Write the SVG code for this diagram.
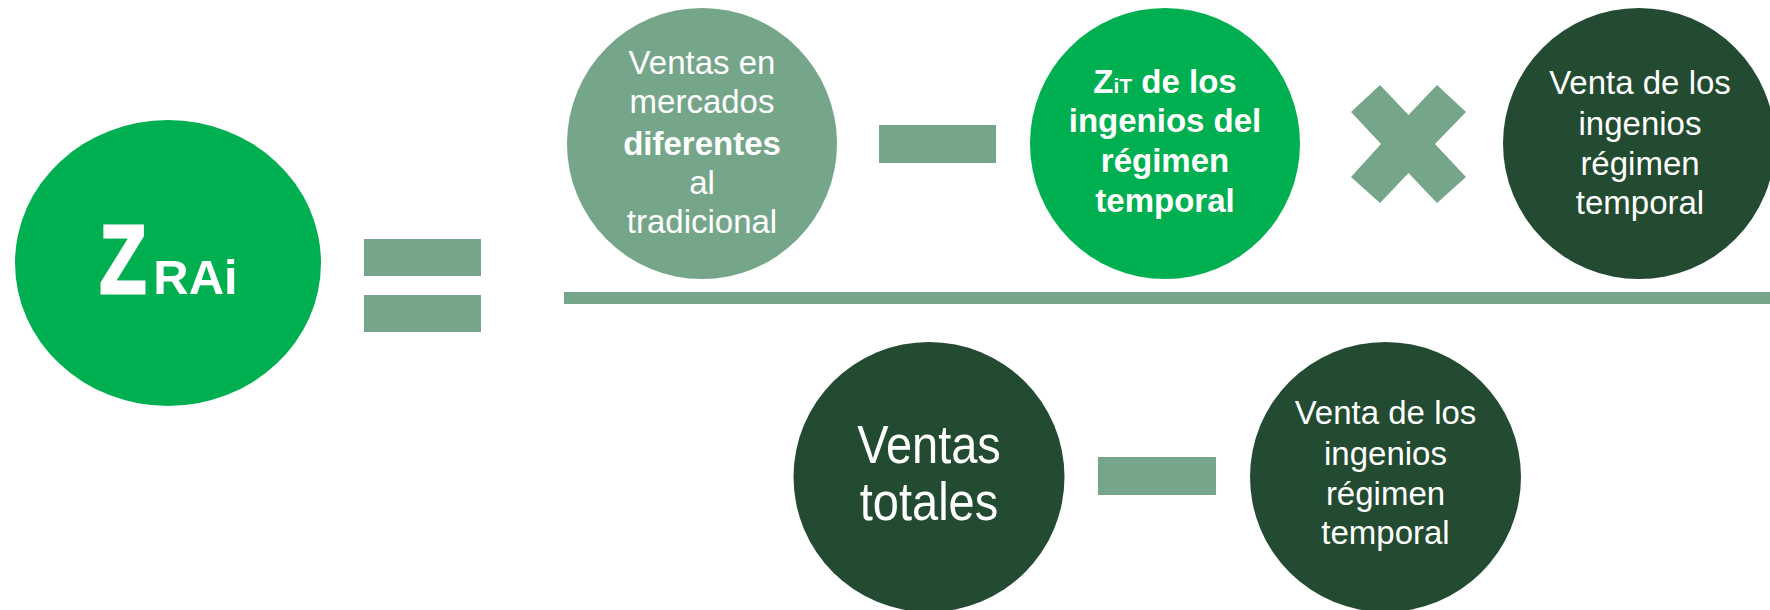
<svg xmlns="http://www.w3.org/2000/svg" width="1770" height="610" viewBox="0 0 1770 610">
<style>
.bright{fill:#00B050}
.sage{fill:#76A68A}
.dark{fill:#234B31}
text{font-family:"Liberation Sans",Arial,sans-serif;fill:#FFFFFF;text-anchor:middle}
.t33{font-size:33px}
.b{font-weight:bold}
</style>
<rect width="1770" height="610" fill="#FFFFFF"/>
<g id="operators">
  <rect class="sage" x="364" y="239" width="117" height="37"/>
  <rect class="sage" x="364" y="295" width="117" height="37"/>
  <rect class="sage" x="879" y="125" width="117" height="38"/>
  <polygon class="sage" points="1380,85 1408.5,115 1437,85 1466,112 1435,144 1466,177 1437,203 1408.5,173 1380,203 1351,177 1381,144 1351,112"/>
  <rect class="sage" x="564" y="292" width="1206" height="12"/>
  <rect class="sage" x="1098" y="457" width="118" height="38"/>
</g>
<g id="node-zrai">
  <ellipse class="bright" cx="168" cy="263" rx="153" ry="143"/>
  <text class="b" font-size="96" stroke="#FFFFFF" stroke-width="3" stroke-linejoin="miter" transform="translate(123,293) scale(0.8,1)">Z</text>
  <text class="b" font-size="49" x="195.5" y="294">RAi</text>
</g>
<g id="node-ventas-mercados">
  <ellipse class="sage" cx="702" cy="143.5" rx="135" ry="135.5"/>
  <text class="t33" x="702" y="74">Ventas en</text>
  <text class="t33" x="702" y="113">mercados</text>
  <text class="t33 b" x="702" y="155">diferentes</text>
  <text class="t33" x="702" y="194">al</text>
  <text class="t33" x="702" y="233">tradicional</text>
</g>
<g id="node-zit">
  <ellipse class="bright" cx="1165" cy="143.5" rx="135" ry="135.5"/>
  <text class="t33 b" x="1165" y="93">Z<tspan font-size="21">iT</tspan> de los</text>
  <text class="t33 b" x="1165" y="132">ingenios del</text>
  <text class="t33 b" x="1165" y="172">régimen</text>
  <text class="t33 b" x="1165" y="212">temporal</text>
</g>
<g id="node-venta-temporal-top">
  <ellipse class="dark" cx="1639" cy="143.5" rx="136" ry="135.5"/>
  <text class="t33" x="1640" y="94">Venta de los</text>
  <text class="t33" x="1640" y="135">ingenios</text>
  <text class="t33" x="1640" y="175">régimen</text>
  <text class="t33" x="1640" y="214">temporal</text>
</g>
<g id="node-ventas-totales">
  <ellipse class="dark" cx="929" cy="477" rx="135.5" ry="135"/>
  <text font-size="54" transform="translate(929,463) scale(0.87,1)">Ventas</text>
  <text font-size="54" transform="translate(929,520) scale(0.87,1)">totales</text>
</g>
<g id="node-venta-temporal-bottom">
  <ellipse class="dark" cx="1385.5" cy="477" rx="135.5" ry="135"/>
  <text class="t33" x="1385.5" y="424">Venta de los</text>
  <text class="t33" x="1385.5" y="465">ingenios</text>
  <text class="t33" x="1385.5" y="505">régimen</text>
  <text class="t33" x="1385.5" y="544">temporal</text>
</g>
</svg>
